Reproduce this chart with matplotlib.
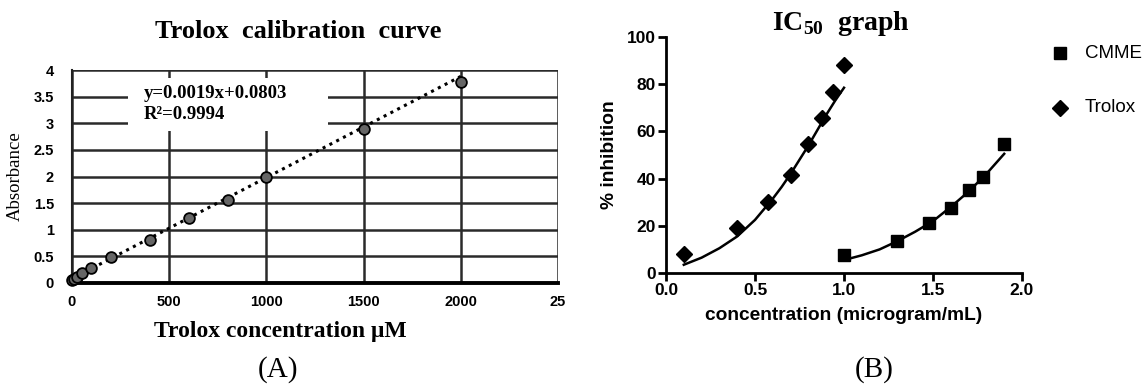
import matplotlib
matplotlib.use("Agg")
import matplotlib.pyplot as plt
from matplotlib.patches import Rectangle
from matplotlib.lines import Line2D

# ---- Panel A data ----
conc_a = [0, 10, 25, 50, 100, 200, 400, 600, 800, 1000, 1500, 2000]
absorb = [0.05, 0.08, 0.12, 0.19, 0.28, 0.49, 0.80, 1.23, 1.55, 1.99, 2.89, 3.78]
slope, intercept = 0.0019, 0.0803
a_xticks = [0, 500, 1000, 1500, 2000, 2500]
a_xticklabels = ["0", "500", "1000", "1500", "2000", "25"]
a_yticks = [0, 0.5, 1, 1.5, 2, 2.5, 3, 3.5, 4]
a_yticklabels = ["0", "0.5", "1", "1.5", "2", "2.5", "3", "3.5", "4"]

# ---- Panel B data ----
trolox_x = [0.10, 0.40, 0.575, 0.70, 0.80, 0.875, 0.94, 1.00]
trolox_y = [8, 19, 30, 41.5, 54.5, 65.5, 76.5, 88]
cmme_x = [1.00, 1.30, 1.48, 1.60, 1.70, 1.78, 1.90]
cmme_y = [7.5, 13.5, 21, 27.5, 35, 40.5, 54.5]
trolox_fit_x = [0.10, 0.15, 0.20, 0.25, 0.30, 0.35, 0.40, 0.45, 0.50, 0.55, 0.60,
                0.65, 0.70, 0.75, 0.80, 0.85, 0.90, 0.95, 1.00]
trolox_fit_y = [3.5, 5.0, 6.5, 8.5, 10.5, 13.0, 15.5, 19.0, 22.5, 27.0, 31.5,
                36.5, 42.0, 48.0, 54.0, 60.5, 67.0, 73.0, 78.5]
cmme_fit_x = [1.0, 1.1, 1.2, 1.3, 1.4, 1.5, 1.6, 1.7, 1.8, 1.9]
cmme_fit_y = [5.5, 7.5, 10.0, 13.5, 17.5, 22.0, 28.0, 34.5, 42.0, 50.5]
legend_labels = ["CMME", "Trolox"]

SERIF = "Liberation Serif"
SANS = "Liberation Sans"

fig = plt.figure(figsize=(11.42, 3.86), dpi=100)

# ================= Panel A =================
axA = fig.add_axes([72/1142, 1-283/386, (558-72)/1142, (283-70)/386])
axA.set_xlim(0, 2500)
axA.set_ylim(0, 4)
axA.set_xticks(a_xticks)
axA.set_xticklabels(a_xticklabels, fontfamily=SANS, fontweight="bold", fontsize=10.5)
axA.set_yticks(a_yticks)
axA.set_yticklabels(a_yticklabels, fontfamily=SANS, fontweight="bold", fontsize=10.5)
axA.tick_params(axis="y", length=0, pad=13)
axA.tick_params(axis="x", length=0, pad=9)
for s in ["top", "right"]:
    axA.spines[s].set_visible(False)
axA.spines["left"].set_linewidth(1.5)
axA.spines["bottom"].set_linewidth(2.8)
axA.spines["left"].set_color("#222222")
axA.grid(True, color="#2a2a2a", linewidth=1.8)
axA.set_axisbelow(True)
# white box behind the equation
axA.add_patch(Rectangle((288, 2.85), 1028, 1.0, facecolor="white", edgecolor="none", zorder=1.5))
fit_x = [0, 2000]
fit_y = [slope * v + intercept for v in fit_x]
axA.plot(fit_x, fit_y, linestyle=(0, (1, 1.5)), color="black", linewidth=2.2, zorder=3)
axA.scatter(conc_a, absorb, s=60, facecolor="#666666", edgecolor="black", linewidth=1.3,
            zorder=4, clip_on=False)
axA.text(370, 3.55, "y=0.0019x+0.0803", fontfamily=SERIF, fontsize=13.5, fontweight="bold",
         va="center", zorder=5)
axA.text(370, 3.17, "R²=0.9994", fontfamily=SERIF, fontsize=13.5, fontweight="bold",
         va="center", zorder=5)
axA.set_ylabel("Absorbance", fontfamily=SERIF, fontsize=13.5, labelpad=7)
fig.text(298/1142, 1-31/386, "Trolox  calibration  curve", fontfamily=SERIF, fontsize=19,
         fontweight="bold", ha="center", va="center")
fig.text(280/1142, 1-331/386, "Trolox concentration μM", fontfamily=SERIF, fontsize=17,
         fontweight="bold", ha="center", va="center")
fig.text(278/1142, 1-370/386, "(A)", fontfamily=SERIF, fontsize=21, ha="center", va="center")

# ================= Panel B =================
axB = fig.add_axes([666/1142, 1-273/386, (1022-666)/1142, (273-37)/386])
axB.set_xlim(0, 2.0)
axB.set_ylim(0, 100)
axB.set_xticks([0.0, 0.5, 1.0, 1.5, 2.0])
axB.set_xticklabels(["0.0", "0.5", "1.0", "1.5", "2.0"], fontfamily=SANS, fontweight="bold", fontsize=12.5)
axB.set_yticks([0, 20, 40, 60, 80, 100])
axB.set_yticklabels(["0", "20", "40", "60", "80", "100"], fontfamily=SANS, fontweight="bold", fontsize=12.5)
for s in ["top", "right"]:
    axB.spines[s].set_visible(False)
for s in ["left", "bottom"]:
    axB.spines[s].set_linewidth(2)
axB.tick_params(direction="out", length=5.5, width=2, pad=2)
axB.plot(trolox_fit_x, trolox_fit_y, color="black", linewidth=1.8)
axB.plot(cmme_fit_x, cmme_fit_y, color="black", linewidth=1.8)
axB.plot(trolox_x, trolox_y, linestyle="none", marker="D", markersize=8.5, color="black", clip_on=False)
axB.plot(cmme_x, cmme_y, linestyle="none", marker="s", markersize=8, color="black", clip_on=False)
axB.set_xlabel("concentration (microgram/mL)", fontfamily=SANS, fontsize=13.8, fontweight="bold", labelpad=6)
axB.set_ylabel("% inhibition", fontfamily=SANS, fontsize=13.8, fontweight="bold", labelpad=6)
fig.text(841/1142, 1-24/386, r"IC$_{\mathregular{50}}$  graph", fontfamily=SERIF, fontsize=20,
         fontweight="bold", ha="center", va="center")
fig.text(874/1142, 1-370/386, "(B)", fontfamily=SERIF, fontsize=21, ha="center", va="center")

# legend (outside right)
leg_markers = ["s", "D"]
leg_y = [53, 108]
for mk, lbl, yy in zip(leg_markers, legend_labels, leg_y):
    fig.add_artist(Line2D([1060/1142], [1-yy/386], transform=fig.transFigure, linestyle="none",
                          marker=mk, markersize=8, color="black"))
    fig.text(1085/1142, 1-yy/386, lbl, fontfamily=SANS, fontsize=13.5, ha="left", va="center")

fig.savefig("out.png", dpi=100)
